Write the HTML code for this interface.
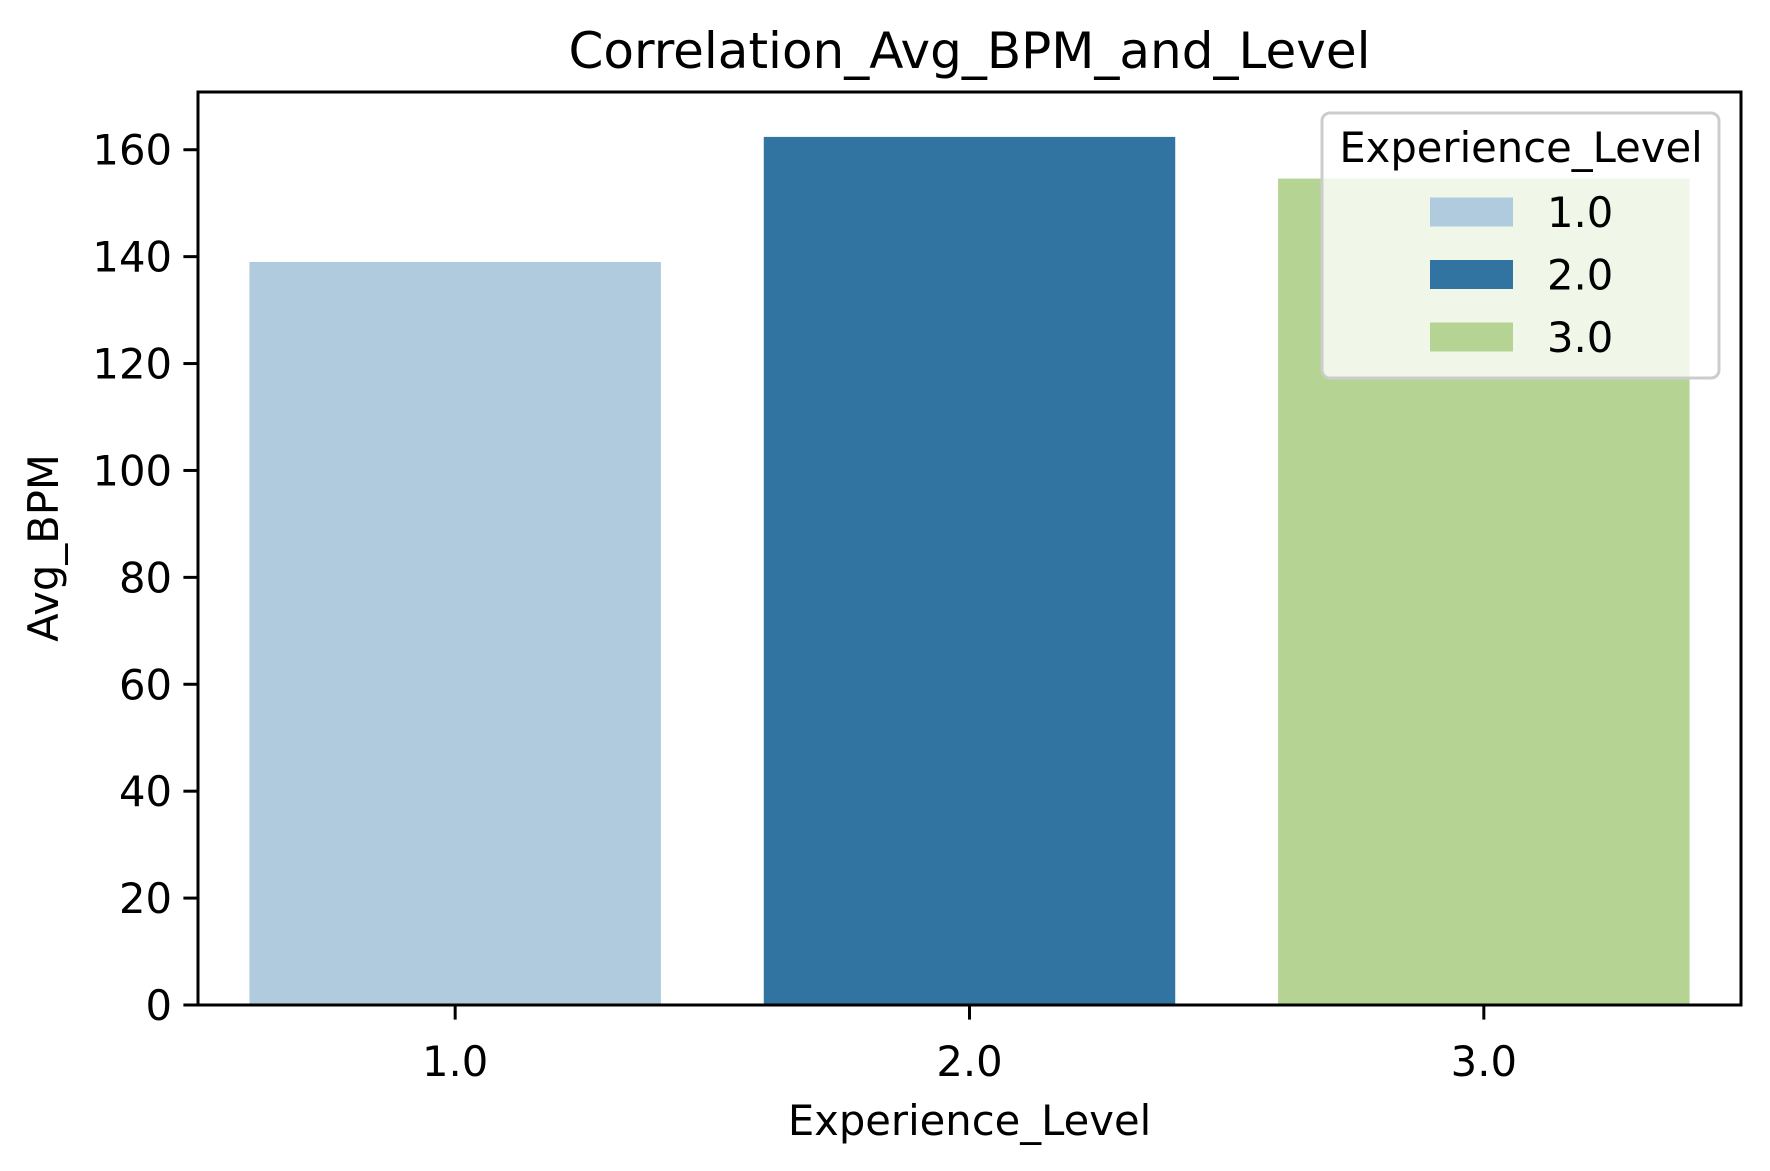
<!DOCTYPE html>
<html><head><meta charset="utf-8"><style>
html,body{margin:0;padding:0;background:#fff;}
svg text{font-family:"DejaVu Sans","Liberation Sans",sans-serif;fill:#000;}
</style></head><body>
<svg id="chart" width="1770" height="1166" viewBox="0 0 1770 1166" xmlns="http://www.w3.org/2000/svg">
<rect x="0" y="0" width="1770" height="1166" fill="#fff"/>
<text x="969.5" y="68" font-size="50" text-anchor="middle">Correlation_Avg_BPM_and_Level</text>
<g id="bars"></g>
<g id="yticks"></g>
<g id="xticks"></g>
<rect x="198" y="92" width="1543" height="913" fill="none" stroke="#000" stroke-width="3"/>
<text transform="translate(58,548) rotate(-90)" font-size="41.7" text-anchor="middle">Avg_BPM</text>
<text x="969.5" y="1135" font-size="41.7" text-anchor="middle">Experience_Level</text>
<g id="legend">
<rect x="1322" y="113" width="397" height="265" rx="8" fill="#fff" fill-opacity="0.8" stroke="#cccccc" stroke-width="3"/>
<text x="1521" y="162" font-size="41.7" text-anchor="middle">Experience_Level</text>
</g>
</svg>
<script>
const categories = ["1.0", "2.0", "3.0"];
const values = [139.0, 162.4, 154.6];
const colors = ["#afcbdd", "#3274a1", "#b5d493"];
const yTicks = [0, 20, 40, 60, 80, 100, 120, 140, 160];

const NS = "http://www.w3.org/2000/svg";
const X0 = 198, X1 = 1741, Y0 = 1005, Y1 = 92;
const YMAX = 170.8;
const band = (X1 - X0) / categories.length;
function xScale(i) { return X0 + (i + 0.5) * band; }
function yScale(v) { return Y0 - (v / YMAX) * (Y0 - Y1); }
function mk(tag, attrs) { const e = document.createElementNS(NS, tag); for (const k in attrs) e.setAttribute(k, attrs[k]); return e; }

const barsG = document.getElementById("bars");
values.forEach((v, i) => {
  const w = band * 0.8;
  const r = mk("rect", {x: xScale(i) - w / 2, y: yScale(v), width: w, height: Y0 - yScale(v), fill: colors[i]});
  
  
  barsG.appendChild(r);
});

const yG = document.getElementById("yticks");
yTicks.forEach(t => {
  const y = yScale(t);
  const l = mk("line", {x1: X0 - 14.6, x2: X0, y1: y, y2: y, stroke: "#000", "stroke-width": 3});
  
  
  yG.appendChild(l);
  const tx = mk("text", {x: X0 - 26, y: y + 15, "font-size": 41.7, "text-anchor": "end"});
  tx.textContent = t;
  
  
  yG.appendChild(tx);
});

const xG = document.getElementById("xticks");
categories.forEach((c, i) => {
  const x = xScale(i);
  const l = mk("line", {x1: x, x2: x, y1: Y0, y2: Y0 + 14.6, stroke: "#000", "stroke-width": 3});
  
  
  xG.appendChild(l);
  const tx = mk("text", {x: x, y: Y0 + 71, "font-size": 41.7, "text-anchor": "middle"});
  tx.textContent = c;
  
  
  xG.appendChild(tx);
});

const lg = document.getElementById("legend");
categories.forEach((c, i) => {
  const cy = 212 + i * 62.5;
  const p = mk("rect", {x: 1430, y: cy - 14.5, width: 83, height: 29, fill: colors[i]});
  
  
  lg.appendChild(p);
  const t = mk("text", {x: 1547, y: cy + 15, "font-size": 41.7});
  t.textContent = c;
  
  
  lg.appendChild(t);
});
</script>
</body></html>
